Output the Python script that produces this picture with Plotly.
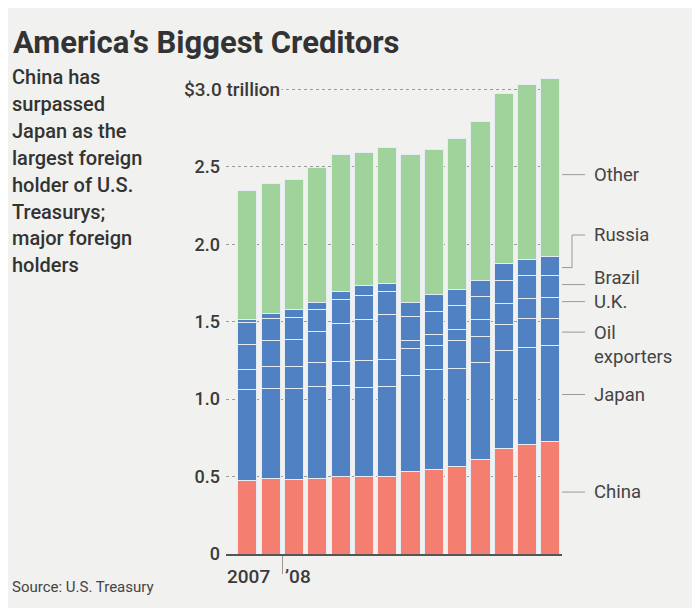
import plotly.graph_objects as go

# ---- data (trillions of dollars), monthly Nov 2007 - Dec 2008 ----
months = ["Nov 2007", "Dec 2007", "Jan 2008", "Feb 2008", "Mar 2008", "Apr 2008", "May 2008",
          "Jun 2008", "Jul 2008", "Aug 2008", "Sep 2008", "Oct 2008", "Nov 2008", "Dec 2008"]
china = [0.474, 0.487, 0.481, 0.485, 0.498, 0.502, 0.502, 0.530, 0.545, 0.566, 0.610, 0.679, 0.706, 0.724]
japan = [0.587, 0.585, 0.585, 0.598, 0.589, 0.574, 0.581, 0.625, 0.645, 0.635, 0.624, 0.633, 0.628, 0.624]
oil_exporters = [0.129, 0.140, 0.146, 0.154, 0.157, 0.172, 0.172, 0.171, 0.157, 0.178, 0.171, 0.169, 0.185, 0.176]
uk = [0.162, 0.165, 0.172, 0.200, 0.243, 0.265, 0.290, 0.051, 0.071, 0.074, 0.112, 0.140, 0.134, 0.134]
brazil = [0.140, 0.147, 0.146, 0.145, 0.159, 0.157, 0.150, 0.157, 0.151, 0.150, 0.146, 0.145, 0.144, 0.139]
russia = [0.025, 0.032, 0.052, 0.043, 0.049, 0.062, 0.055, 0.091, 0.105, 0.108, 0.102, 0.113, 0.107, 0.124]
other = [0.828, 0.834, 0.834, 0.873, 0.882, 0.858, 0.875, 0.952, 0.941, 0.970, 1.030, 1.094, 1.127, 1.147]

series_names = ["China", "Japan", "Oil exporters", "U.K.", "Brazil", "Russia", "Other"]
series_values = [china, japan, oil_exporters, uk, brazil, russia, other]
series_colors = ["#F47E70", "#4F81C3", "#4F81C3", "#4F81C3", "#4F81C3", "#4F81C3", "#9FD39B"]

y_tick_vals = [0, 0.5, 1.0, 1.5, 2.0, 2.5, 3.0]
y_tick_text = ["0", "0.5", "1.0", "1.5", "2.0", "2.5", ""]
top_tick_label = "$3.0 trillion"
year_labels = ["2007", "\u201908"]

# right-side labels: (text, label y in trillions)
legend_labels = [
    ("China", 0.40), ("Japan", 1.03), ("Oil<br>exporters", 1.35), ("U.K.", 1.63),
    ("Brazil", 1.78), ("Russia", 2.06), ("Other", 2.45),
]
legend_connector_y = [0.40, 1.03, 1.433, 1.63, 1.74, 1.85, 2.45]

BG = "#F1F1EF"
TXT = "#3a3a3a"
FONT = "Roboto, sans-serif"

# page offset (body margin) so figure coordinates = reference pixels - OFF
OFF = 8
L, R, T, B = 226 - OFF, 700 - 562 + OFF, 74 - OFF, 608 - 554 + OFF
PW = 700 - L - R
PH = 608 - T - B


def px_x(xr):  # reference x pixel -> paper x
    return (xr - OFF - L) / PW


def px_y(yr):  # reference y pixel -> paper y
    return (608 - B - (yr - OFF)) / PH


x = list(range(len(months)))

fig = go.Figure()
for name, vals, col in zip(series_names, series_values, series_colors):
    fig.add_trace(go.Bar(
        x=x, y=vals, name=name, marker=dict(color=col, line=dict(color="#E6ECF4", width=1)),
        customdata=months, hovertemplate="%{customdata}<br>" + name + ": $%{y:.2f} trillion<extra></extra>",
    ))

fig.update_layout(
    width=700, height=608, barmode="stack", bargap=0.18, showlegend=False,
    paper_bgcolor=BG, plot_bgcolor=BG,
    margin=dict(l=L, r=R, t=T, b=B),
    font=dict(family=FONT, color=TXT),
)
fig.update_xaxes(
    range=[-0.92, 13.5], showgrid=False, zeroline=False,
    showline=True, linecolor="#555", linewidth=1.5,
    tickvals=[1.5], ticktext=[""], ticks="outside", ticklen=18, tickcolor="#999", tickwidth=1,
)
fig.update_yaxes(
    range=[0, 3.1], tickvals=y_tick_vals, ticktext=y_tick_text,
    showgrid=True, gridcolor="#9a9a9a", griddash="dot", gridwidth=1,
    zeroline=False, ticks="", ticklabelstandoff=5,
    tickfont=dict(size=18, color=TXT, family=FONT, weight=500),
)

ann = []
ann.append(dict(text="<b>America\u2019s Biggest Creditors</b>", xref="paper", yref="paper",
                x=px_x(11), y=px_y(42), xanchor="left", yanchor="middle",
                showarrow=False, font=dict(size=31, color="#333", family=FONT)))
sub_lines = ["China has", "surpassed", "Japan as the", "largest foreign", "holder of U.S.",
             "Treasurys;", "major foreign", "holders"]
for i, line in enumerate(sub_lines):
    ann.append(dict(text=line, xref="paper", yref="paper",
                    x=px_x(10), y=px_y(77 + i * 26.9), xanchor="left", yanchor="middle",
                    showarrow=False, font=dict(size=20, color="#333", family=FONT, weight=500)))
ann.append(dict(text="Source: U.S. Treasury", xref="paper", yref="paper",
                x=px_x(10), y=px_y(587), xanchor="left", yanchor="middle",
                showarrow=False, font=dict(size=15, color="#444", family=FONT)))
ann.append(dict(text=top_tick_label, xref="paper", yref="y", x=px_x(282), y=3.0,
                xanchor="right", yanchor="middle", showarrow=False, bgcolor=BG, borderpad=1,
                font=dict(size=19, color=TXT, family=FONT, weight=500)))
ann.append(dict(text=year_labels[0], xref="x", yref="paper", x=1.5, xshift=-10,
                y=px_y(576), xanchor="right", yanchor="middle", showarrow=False,
                font=dict(size=19, color=TXT, family=FONT, weight=500)))
ann.append(dict(text=year_labels[1], xref="x", yref="paper", x=1.5, xshift=1,
                y=px_y(576), xanchor="left", yanchor="middle", showarrow=False,
                font=dict(size=19, color=TXT, family=FONT, weight=500)))
for (txt, ly) in legend_labels:
    ann.append(dict(text=txt, xref="paper", yref="y", x=px_x(592), y=ly, align="left",
                    xanchor="left", yanchor="middle", showarrow=False,
                    font=dict(size=18.5, color="#444", family=FONT)))
fig.update_layout(annotations=ann)

shapes = []
for i, (txt, ly) in enumerate(legend_labels):
    cy = legend_connector_y[i]
    if txt == "Russia":
        shapes.append(dict(type="path", xref="paper", yref="y",
                           path=f"M 1.0,{cy} L {px_x(572)},{cy} L {px_x(572)},{ly} L {px_x(585)},{ly}",
                           line=dict(color="#999", width=1)))
    else:
        shapes.append(dict(type="line", xref="paper", yref="y", x0=1.0, x1=px_x(585),
                           y0=cy, y1=cy, line=dict(color="#999", width=1)))
fig.update_layout(shapes=shapes)

fig.write_html("out.html")
